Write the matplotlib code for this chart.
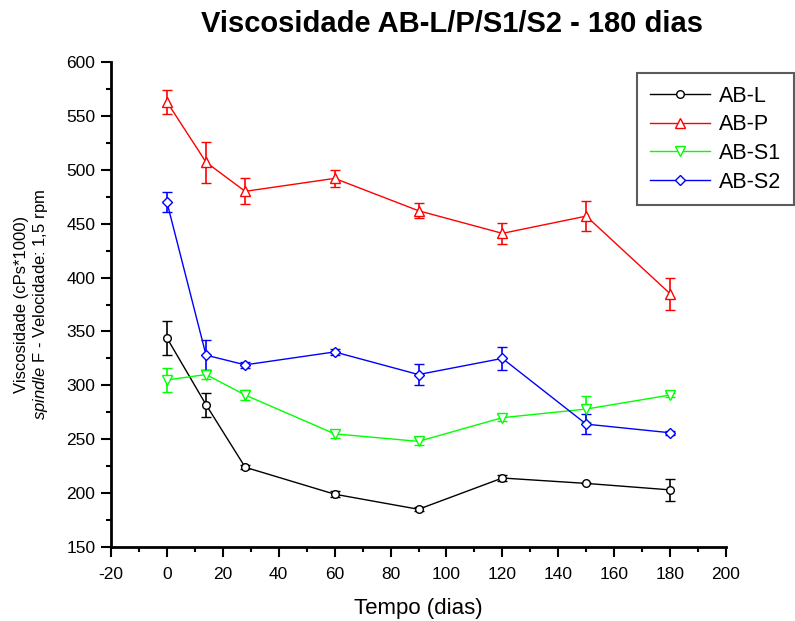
import matplotlib
matplotlib.use("Agg")
import matplotlib.pyplot as plt
from matplotlib.ticker import MultipleLocator
from matplotlib.lines import Line2D

plt.rcParams['font.family'] = ['Liberation Sans', 'DejaVu Sans']
plt.rcParams['mathtext.fontset'] = 'custom'
plt.rcParams['mathtext.it'] = 'Liberation Sans:italic'
plt.rcParams['mathtext.rm'] = 'Liberation Sans'
plt.rcParams['axes.unicode_minus'] = False

dias = [0, 14, 28, 60, 90, 120, 150, 180]
series_names = ["AB-L", "AB-P", "AB-S1", "AB-S2"]
ab_l = [344, 282, 224, 199, 185, 214, 209, 203]
ab_l_err = [16, 11, 2, 3, 2, 3, 0, 10]
ab_p = [563, 507, 480, 492, 462, 441, 457, 385]
ab_p_err = [11, 19, 12, 8, 7, 10, 14, 15]
ab_s1 = [305, 310, 291, 255, 248, 270, 278, 291]
ab_s1_err = [11, 4, 5, 4, 3, 3, 12, 2]
ab_s2 = [470, 328, 319, 331, 310, 325, 264, 256]
ab_s2_err = [9, 14, 3, 3, 10, 11, 9, 2]

colors = ["#000000", "#ff0000", "#00ff00", "#0000ff"]
markers = ["o", "^", "v", "D"]
msizes = [5.5, 6.5, 6.5, 5]

fig = plt.figure(figsize=(7.95, 6.21), dpi=100)
ax = fig.add_axes([111/795, 74/621, 615/795, 485/621])

handles = []
for name, y, e, c, m, ms in zip(series_names, [ab_l, ab_p, ab_s1, ab_s2],
                                [ab_l_err, ab_p_err, ab_s1_err, ab_s2_err],
                                colors, markers, msizes):
    ax.errorbar(dias, y, yerr=e, color=c, marker=m, markersize=ms,
                markerfacecolor='white', markeredgecolor=c, markeredgewidth=1,
                linewidth=1, elinewidth=1.2, capsize=3.3, capthick=1.2)
    handles.append(Line2D([], [], color=c, marker=m, markersize=ms,
                          markerfacecolor='white', markeredgecolor=c,
                          markeredgewidth=1, linewidth=1, label=name))

ax.set_xlim(-20, 200)
ax.set_ylim(150, 600)
ax.xaxis.set_major_locator(MultipleLocator(20))
ax.xaxis.set_minor_locator(MultipleLocator(10))
ax.yaxis.set_major_locator(MultipleLocator(50))
ax.yaxis.set_minor_locator(MultipleLocator(25))
ax.spines['top'].set_visible(False)
ax.spines['right'].set_visible(False)
ax.spines['left'].set_linewidth(2)
ax.spines['bottom'].set_linewidth(2)
ax.tick_params(which='major', direction='out', length=7.2, width=1.5, labelsize=12.5, pad=4)
ax.tick_params(axis='x', which='major', pad=7)
ax.tick_params(which='minor', direction='out', length=3.6, width=1.5)

ax.set_xlabel("Tempo (dias)", fontsize=16, labelpad=12)
ax.set_ylabel("Viscosidade (cPs*1000)\n$\\it{spindle}$ F - Velocidade: 1,5 rpm",
              fontsize=12, labelpad=12, linespacing=1.1)
fig.text(0.569, 0.961, "Viscosidade AB-L/P/S1/S2 - 180 dias", ha='center', va='center',
         fontsize=21, fontweight='bold')

leg = ax.legend(handles=handles, loc='upper left', bbox_to_anchor=(637/795, 1 - 73/621),
                bbox_transform=fig.transFigure,
                fontsize=15.5, frameon=True, fancybox=False, shadow=False, borderpad=0.6,
                handlelength=2.8, labelspacing=0.35, handletextpad=0.4, borderaxespad=0)
leg.get_frame().set_edgecolor('#333333')
leg.get_frame().set_linewidth(1.5)

fig.savefig("out.png", dpi=100)
